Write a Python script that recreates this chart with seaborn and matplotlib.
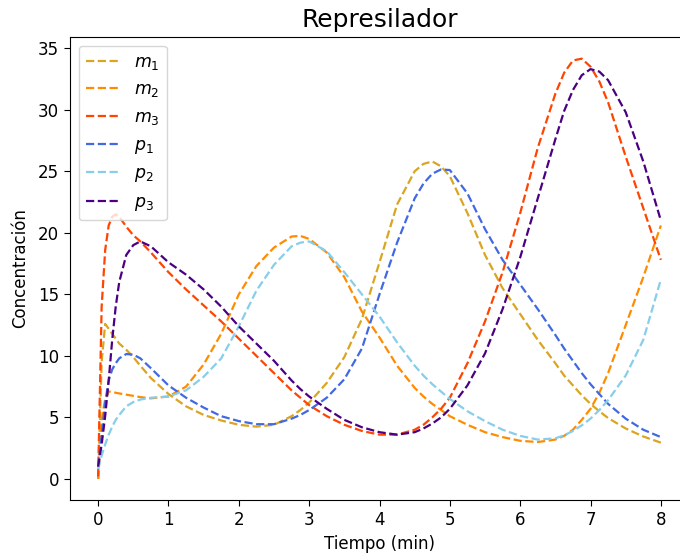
import matplotlib
matplotlib.use("Agg")
import matplotlib.pyplot as plt
import seaborn as sns
import pandas as pd

t = [0, 0.05, 0.1, 0.15, 0.2, 0.25, 0.3, 0.4, 0.5, 0.6, 0.75,
     1.0, 1.25, 1.5, 1.75, 2.0, 2.25, 2.5, 2.75, 2.875, 3.0, 3.25, 3.5, 3.75,
     4.0, 4.25, 4.5, 4.625, 4.75, 4.875, 5.0, 5.25, 5.5, 5.75, 6.0, 6.25, 6.5,
     6.625, 6.75, 6.875, 7.0, 7.125, 7.25, 7.5, 7.75, 8.0]

m1 = [0, 9.5, 12.6, 12.2, 11.8, 11.4, 11.0, 10.5, 9.9, 9.2, 8.2,
      6.9, 5.9, 5.2, 4.75, 4.4, 4.25, 4.4, 5.1, 5.6, 6.2, 7.8, 9.9, 13.0,
      17.6, 22.3, 25.0, 25.6, 25.8, 25.4, 24.6, 21.6, 18.2, 15.5, 13.4, 11.3, 9.4,
      8.4, 7.6, 6.8, 6.1, 5.5, 4.95, 4.1, 3.45, 2.95]
m2 = [0, 4.8, 6.5, 7.1, 7.1, 7.0, 6.95, 6.85, 6.75, 6.65, 6.55,
      6.7, 7.5, 9.3, 11.8, 15.0, 17.3, 18.8, 19.7, 19.75, 19.5, 18.4, 16.4, 13.6,
      11.5, 9.2, 7.4, 6.7, 6.1, 5.6, 5.1, 4.4, 3.8, 3.4, 3.1, 3.0, 3.2,
      3.5, 4.0, 4.8, 5.7, 7.0, 8.6, 12.5, 16.4, 20.6]
m3 = [0.2, 14.0, 18.6, 20.6, 21.3, 21.5, 21.3, 20.5, 19.8, 19.3, 18.4,
      16.8, 15.4, 14.1, 12.8, 11.4, 10.0, 8.6, 7.2, 6.6, 6.0, 5.1, 4.4, 3.9,
      3.6, 3.6, 4.0, 4.4, 5.0, 5.7, 6.6, 9.4, 12.8, 16.8, 21.6, 26.9, 31.3,
      33.0, 34.0, 34.15, 33.5, 32.3, 30.6, 26.2, 22.0, 17.8]
p1 = [1.0, 3.5, 6.2, 8.0, 8.9, 9.4, 9.8, 10.15, 10.1, 9.8, 9.0,
      7.6, 6.6, 5.8, 5.1, 4.7, 4.45, 4.45, 4.9, 5.2, 5.6, 6.6, 8.1, 10.6,
      15.0, 19.2, 22.8, 24.0, 24.8, 25.15, 25.1, 23.2, 20.3, 17.8, 15.8, 13.8, 11.7,
      10.6, 9.6, 8.6, 7.7, 6.9, 6.1, 4.9, 4.0, 3.4]
p2 = [0.8, 1.9, 2.8, 3.6, 4.25, 4.8, 5.2, 5.9, 6.25, 6.45, 6.6,
      6.7, 7.2, 8.3, 9.8, 12.4, 15.3, 17.4, 18.9, 19.2, 19.3, 18.5, 16.8, 15.0,
      13.2, 11.1, 9.2, 8.4, 7.7, 7.1, 6.5, 5.5, 4.7, 4.0, 3.5, 3.2, 3.3,
      3.55, 3.9, 4.35, 4.9, 5.6, 6.4, 8.4, 11.3, 16.2]
p3 = [1.0, 2.8, 5.1, 8.0, 11.3, 14.0, 16.0, 18.2, 19.0, 19.3, 18.9,
      17.6, 16.6, 15.4, 14.0, 12.4, 11.0, 9.6, 8.0, 7.3, 6.7, 5.7, 4.8, 4.2,
      3.8, 3.6, 3.8, 4.1, 4.5, 5.0, 5.7, 7.6, 10.2, 13.8, 18.0, 22.8, 27.6,
      29.9, 31.6, 32.8, 33.3, 33.1, 32.4, 29.8, 25.8, 21.0]

labels = ["$m_1$", "$m_2$", "$m_3$", "$p_1$", "$p_2$", "$p_3$"]
colors = ["goldenrod", "darkorange", "orangered", "royalblue", "skyblue", "indigo"]

series = [m1, m2, m3, p1, p2, p3]

fig = plt.figure(figsize=(6.8, 5.56), dpi=100)
ax = fig.add_axes([70 / 680, 56 / 556, 619 / 680, 463 / 556])

for vals, lab, col in zip(series, labels, colors):
    df = pd.DataFrame({"t": t, "v": vals})
    sns.lineplot(data=df, x="t", y="v", ax=ax, color=col, linestyle="--",
                 linewidth=1.6, label=lab)

ax.set_xlim(-0.4, 8.4)
ax.set_ylim(-1.71, 35.91)
ax.set_xticks(range(0, 9))
ax.set_yticks(range(0, 36, 5))
ax.tick_params(labelsize=12, length=4.5)
ax.set_title("Represilador", fontsize=18, pad=7)
ax.set_xlabel("Tiempo (min)", fontsize=12, labelpad=4)
ax.set_ylabel("Concentración", fontsize=12, labelpad=6)
ax.legend(loc="upper left", fontsize=12.5)

fig.savefig("out.png", dpi=100)
